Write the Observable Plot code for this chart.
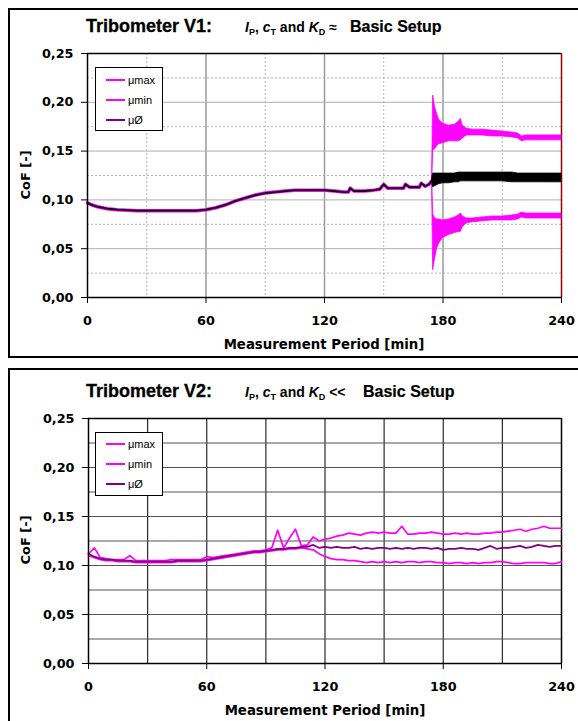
<!DOCTYPE html>
<html>
<head>
<meta charset="utf-8">
<script src="https://cdn.jsdelivr.net/npm/d3@7"></script>
<script src="https://cdn.jsdelivr.net/npm/@observablehq/plot@0.6"></script>
<style>
  html, body { margin: 0; padding: 0; background: #fff; }
  body { position: relative; width: 578px; height: 721px; overflow: hidden; }
  .box { position: absolute; border: 2px solid #000; box-sizing: border-box; }
  .chart { position: absolute; left: 0; }
  .title { position: absolute; display: flex; align-items: baseline; font-family: "Liberation Sans", Arial, sans-serif; font-weight: 700; white-space: nowrap; color: #000; line-height: 20px; }
  .title > span { flex-shrink: 0; }
  .t1 { font-size: 18px; width: 159px; -webkit-text-stroke: 0.3px #000; }
  .t2 { font-size: 14px; }
  .t2 i { font-style: italic; }
  .t2 sub { font-size: 9px; vertical-align: -3px; }
  .t3 { font-size: 16px; -webkit-text-stroke: 0.2px #000; }
  .xlabel { position: absolute; width: 474px; text-align: center; font-family: "DejaVu Sans", sans-serif; font-weight: bold; font-size: 13.3px; color: #000; line-height: 16px; }
  .ylabel { position: absolute; font-family: "DejaVu Sans", sans-serif; font-weight: bold; font-size: 13px; color: #000; transform: rotate(-90deg); transform-origin: center center; white-space: nowrap; line-height: 14px; }
  .legend { position: absolute; width: 68px; height: 64px; border: 1px solid #000; background: #fff; box-sizing: border-box; font-family: "Liberation Sans", Arial, sans-serif; font-size: 11px; color: #000; }
  .legend .row { position: absolute; left: 10px; display: flex; align-items: center; height: 14px; }
  .legend .sw { display: inline-block; width: 19px; height: 2px; margin-right: 3px; }
</style>
</head>
<body>
<div class="box" style="left:8px; top:8px; width:590px; height:350px;"></div>
<div class="box" style="left:8px; top:368px; width:590px; height:400px;"></div>

<div id="c1" class="chart" style="top:0px;"></div>
<div id="c2" class="chart" style="top:368px;"></div>

<div class="title" style="left:86px; top:16px;">
  <span class="t1">Tribometer V1:</span>
  <span class="t2" style="width:105px;"><i>I</i><sub>P</sub>, <i>c</i><sub>T</sub> and <i>K</i><sub>D</sub> ≈</span>
  <span class="t3">Basic Setup</span>
</div>
<div class="title" style="left:86px; top:381px;">
  <span class="t1">Tribometer V2:</span>
  <span class="t2" style="width:118px;"><i>I</i><sub>P</sub>, <i>c</i><sub>T</sub> and <i>K</i><sub>D</sub> &lt;&lt;</span>
  <span class="t3">Basic Setup</span>
</div>

<div class="xlabel" style="left:87px; top:337px;">Measurement Period [min]</div>
<div class="xlabel" style="left:88px; top:703px;">Measurement Period [min]</div>

<div class="ylabel" style="left:-3px; top:168px; width:58px; text-align:center;">CoF [-]</div>
<div class="ylabel" style="left:-3px; top:533px; width:58px; text-align:center;">CoF [-]</div>

<div id="leg1" class="legend" style="left:95px; top:67px;"></div>
<div id="leg2" class="legend" style="left:95px; top:432px;"></div>

<script>
// ---------- shared axis / grid values ----------
const xTicks = [0, 60, 120, 180, 240];
const yTicks = [0, 0.05, 0.10, 0.15, 0.20, 0.25];
const gridXMajor = [60, 120, 180];
const gridXMinor = [30, 90, 150, 210];
const gridYMajor = [0.05, 0.10, 0.15, 0.20];
const gridYMinor = [0.025, 0.075, 0.125, 0.175, 0.225];
const seriesNames = ["μmax", "μmin", "μØ"];
const seriesColors = ["#ff00ff", "#ff00ff", "#800080"];

// ---------- Tribometer V1 (single trace until ~175 min) ----------
const v1Time = [0, 2, 5, 10, 15, 20, 25, 30, 35, 40, 45, 50, 55, 60, 65, 70, 75, 80, 85, 90, 95, 100, 105, 110, 115, 120, 125, 130, 132, 133, 135, 140, 145, 148, 150, 152, 155, 160, 161, 163, 165, 168, 169, 171, 173, 174.5];
const v1Mean = [0.097, 0.095, 0.093, 0.091, 0.090, 0.0895, 0.089, 0.089, 0.089, 0.089, 0.089, 0.089, 0.089, 0.090, 0.092, 0.095, 0.099, 0.102, 0.105, 0.107, 0.108, 0.109, 0.110, 0.110, 0.110, 0.110, 0.109, 0.108, 0.108, 0.112, 0.109, 0.109, 0.110, 0.111, 0.116, 0.112, 0.112, 0.112, 0.116, 0.113, 0.113, 0.113, 0.117, 0.114, 0.116, 0.120];

// ---------- Tribometer V1 oscillation envelopes after ~175 min ----------
const v1BandTime = [174.5, 175, 176, 177, 178, 180, 183, 186, 188, 189, 190, 192, 195, 200, 205, 210, 215, 218, 220, 222, 225, 230, 235, 240];
const v1MaxHi  = [0.122, 0.207, 0.195, 0.188, 0.182, 0.178, 0.176, 0.177, 0.180, 0.183, 0.176, 0.173, 0.172, 0.172, 0.171, 0.170, 0.169, 0.168, 0.165, 0.166, 0.166, 0.166, 0.166, 0.166];
const v1MaxLo  = [0.120, 0.150, 0.152, 0.155, 0.157, 0.158, 0.160, 0.160, 0.160, 0.161, 0.163, 0.166, 0.166, 0.166, 0.165, 0.165, 0.164, 0.163, 0.160, 0.161, 0.161, 0.161, 0.161, 0.161];
const v1MinHi  = [0.120, 0.085, 0.081, 0.080, 0.080, 0.079, 0.080, 0.082, 0.084, 0.086, 0.083, 0.081, 0.081, 0.082, 0.083, 0.083, 0.084, 0.085, 0.087, 0.086, 0.086, 0.086, 0.086, 0.086];
const v1MinLo  = [0.118, 0.028, 0.040, 0.050, 0.055, 0.061, 0.064, 0.066, 0.067, 0.067, 0.072, 0.076, 0.077, 0.078, 0.079, 0.079, 0.079, 0.080, 0.082, 0.081, 0.081, 0.081, 0.081, 0.081];
const v1MeanHi = [0.122, 0.127, 0.127, 0.127, 0.127, 0.127, 0.127, 0.127, 0.128, 0.128, 0.128, 0.128, 0.128, 0.128, 0.128, 0.128, 0.128, 0.127, 0.127, 0.127, 0.127, 0.127, 0.127, 0.127];
const v1MeanLo = [0.118, 0.113, 0.114, 0.115, 0.116, 0.117, 0.117, 0.118, 0.118, 0.119, 0.119, 0.119, 0.119, 0.119, 0.119, 0.119, 0.118, 0.118, 0.118, 0.118, 0.118, 0.118, 0.118, 0.118];

// ---------- Tribometer V2 ----------
const v2Time = [0, 3, 6, 9, 12, 15, 18, 21, 24, 27, 30, 33, 36, 39, 42, 45, 48, 51, 54, 57, 60, 63, 66, 69, 72, 75, 78, 81, 84, 87, 90, 93, 96, 99, 102, 105, 108, 111, 114, 117, 120, 123, 126, 129, 132, 135, 138, 141, 144, 147, 150, 153, 156, 159, 162, 165, 168, 171, 174, 177, 180, 183, 186, 189, 192, 195, 198, 201, 204, 207, 210, 213, 216, 219, 222, 225, 228, 231, 234, 237, 240];
const v2Max = [0.112, 0.118, 0.108, 0.107, 0.106, 0.106, 0.106, 0.110, 0.105, 0.105, 0.105, 0.105, 0.105, 0.105, 0.106, 0.106, 0.106, 0.106, 0.106, 0.106, 0.109, 0.108, 0.109, 0.110, 0.111, 0.112, 0.113, 0.114, 0.115, 0.115, 0.116, 0.118, 0.136, 0.118, 0.128, 0.137, 0.120, 0.121, 0.129, 0.125, 0.127, 0.128, 0.130, 0.131, 0.133, 0.132, 0.131, 0.133, 0.134, 0.133, 0.134, 0.133, 0.133, 0.140, 0.132, 0.132, 0.133, 0.133, 0.134, 0.133, 0.132, 0.132, 0.133, 0.132, 0.133, 0.132, 0.132, 0.133, 0.133, 0.134, 0.134, 0.135, 0.136, 0.137, 0.135, 0.137, 0.138, 0.140, 0.138, 0.138, 0.138];
const v2Min = [0.110, 0.108, 0.106, 0.105, 0.105, 0.104, 0.104, 0.104, 0.103, 0.103, 0.103, 0.103, 0.103, 0.103, 0.103, 0.104, 0.104, 0.104, 0.104, 0.104, 0.105, 0.106, 0.107, 0.108, 0.109, 0.110, 0.111, 0.112, 0.113, 0.113, 0.114, 0.115, 0.116, 0.116, 0.117, 0.117, 0.118, 0.117, 0.116, 0.112, 0.109, 0.107, 0.106, 0.106, 0.105, 0.105, 0.104, 0.103, 0.104, 0.103, 0.104, 0.103, 0.104, 0.103, 0.104, 0.104, 0.103, 0.104, 0.104, 0.103, 0.103, 0.102, 0.103, 0.103, 0.102, 0.103, 0.102, 0.103, 0.103, 0.104, 0.104, 0.103, 0.102, 0.102, 0.103, 0.103, 0.103, 0.103, 0.102, 0.102, 0.104];
const v2Mean = [0.112, 0.109, 0.107, 0.106, 0.106, 0.105, 0.105, 0.105, 0.104, 0.104, 0.104, 0.104, 0.104, 0.104, 0.104, 0.105, 0.105, 0.105, 0.105, 0.105, 0.106, 0.107, 0.108, 0.109, 0.110, 0.111, 0.112, 0.113, 0.114, 0.114, 0.115, 0.116, 0.117, 0.117, 0.118, 0.118, 0.119, 0.119, 0.121, 0.118, 0.119, 0.118, 0.119, 0.118, 0.118, 0.119, 0.117, 0.118, 0.117, 0.118, 0.118, 0.117, 0.118, 0.117, 0.118, 0.117, 0.118, 0.118, 0.117, 0.118, 0.116, 0.117, 0.117, 0.118, 0.117, 0.117, 0.116, 0.118, 0.120, 0.117, 0.118, 0.118, 0.119, 0.120, 0.118, 0.119, 0.121, 0.120, 0.119, 0.120, 0.120];

// ---------- helpers ----------
const fmt = d => d.toFixed(2).replace(".", ",");
const rows = (t, ...cols) => t.map((x, i) => { const o = {t: x}; cols.forEach((c, k) => o["v" + k] = c[i]); return o; });

const baseStyle = {
  fontFamily: "'DejaVu Sans', sans-serif",
  fontWeight: "bold",
  fontSize: "12.8px",
  color: "#000",
  background: "transparent",
  overflow: "visible"
};

// ---------- chart 1 ----------
const v1Rows = rows(v1Time, v1Mean);
const v1Band = rows(v1BandTime, v1MaxLo, v1MaxHi, v1MinLo, v1MinHi, v1MeanLo, v1MeanHi);

const chart1 = Plot.plot({
  width: 578, height: 357,
  marginLeft: 87, marginRight: 17, marginTop: 53, marginBottom: 60,
  x: {domain: [0, 240], ticks: xTicks, tickSize: 6, tickPadding: 12, tickFormat: d => String(d), label: null},
  y: {domain: [0, 0.25], ticks: yTicks, tickSize: 6, tickPadding: 8, tickFormat: fmt, label: null},
  style: baseStyle,
  marks: [
    Plot.ruleX(gridXMinor, {stroke: "#b4b4b4", strokeDasharray: "2,2", strokeWidth: 1}),
    Plot.ruleY(gridYMinor, {stroke: "#b4b4b4", strokeDasharray: "2,2", strokeWidth: 1}),
    Plot.ruleX(gridXMajor, {stroke: "#9a9a9a", strokeWidth: 1.5}),
    Plot.ruleY(gridYMajor, {stroke: "#b0b0b0", strokeWidth: 1}),
    Plot.ruleY([0.25], {stroke: "#000", strokeWidth: 1.5}),
    Plot.ruleX([240], {stroke: "#990000", strokeWidth: 1.5}),
    // μmax / μmin coincide with μØ before the oscillation starts
    Plot.line(v1Rows, {x: "t", y: "v0", stroke: seriesColors[0], strokeWidth: 3.5}),
    Plot.areaY(v1Band, {x: "t", y1: "v0", y2: "v1", fill: seriesColors[0], stroke: seriesColors[0], strokeWidth: 0.8}),
    Plot.areaY(v1Band, {x: "t", y1: "v2", y2: "v3", fill: seriesColors[1], stroke: seriesColors[1], strokeWidth: 0.8}),
    Plot.line(v1Rows, {x: "t", y: "v0", stroke: "#000", strokeWidth: 1.8}),
    Plot.areaY(v1Band, {x: "t", y1: "v4", y2: "v5", fill: "#000", stroke: "#000", strokeWidth: 0.8}),
    Plot.ruleX([0], {stroke: "#000", strokeWidth: 1.5}),
    Plot.ruleY([0], {stroke: "#000", strokeWidth: 1.5})
  ]
});
document.getElementById("c1").appendChild(chart1);

// ---------- chart 2 ----------
const v2Rows = rows(v2Time, v2Max, v2Min, v2Mean);
const chart2 = Plot.plot({
  width: 578, height: 353,
  marginLeft: 88, marginRight: 17, marginTop: 50, marginBottom: 58,
  x: {domain: [0, 240], ticks: xTicks, tickSize: 6, tickPadding: 12, tickFormat: d => String(d), label: null},
  y: {domain: [0, 0.25], ticks: yTicks, tickSize: 6, tickPadding: 8, tickFormat: fmt, label: null},
  style: baseStyle,
  marks: [
    Plot.ruleX(gridXMinor.concat(gridXMajor), {stroke: "#2a2a2a", strokeWidth: 1.2}),
    Plot.ruleY(gridYMinor.concat(gridYMajor), {stroke: "#555", strokeWidth: 1.2}),
    Plot.ruleY([0.25], {stroke: "#000", strokeWidth: 1.5}),
    Plot.ruleX([240], {stroke: "#000", strokeWidth: 1.5}),
    Plot.line(v2Rows, {x: "t", y: "v0", stroke: seriesColors[0], strokeWidth: 1.7}),
    Plot.line(v2Rows, {x: "t", y: "v1", stroke: seriesColors[1], strokeWidth: 1.7}),
    Plot.line(v2Rows, {x: "t", y: "v2", stroke: seriesColors[2], strokeWidth: 1.7}),
    Plot.ruleX([0], {stroke: "#000", strokeWidth: 1.5}),
    Plot.ruleY([0], {stroke: "#000", strokeWidth: 1.5})
  ]
});
document.getElementById("c2").appendChild(chart2);

// ---------- legends ----------
function buildLegend(id, rowTops) {
  const el = document.getElementById(id);
  seriesNames.forEach((name, i) => {
    const r = document.createElement("div");
    r.className = "row";
    r.style.top = rowTops[i] + "px";
    const sw = document.createElement("span");
    sw.className = "sw";
    sw.style.background = seriesColors[i];
    const tx = document.createElement("span");
    tx.textContent = name;
    r.appendChild(sw); r.appendChild(tx);
    el.appendChild(r);
  });
}
buildLegend("leg1", [5, 25, 45]);
buildLegend("leg2", [4, 24, 44]);
</script>
</body>
</html>
